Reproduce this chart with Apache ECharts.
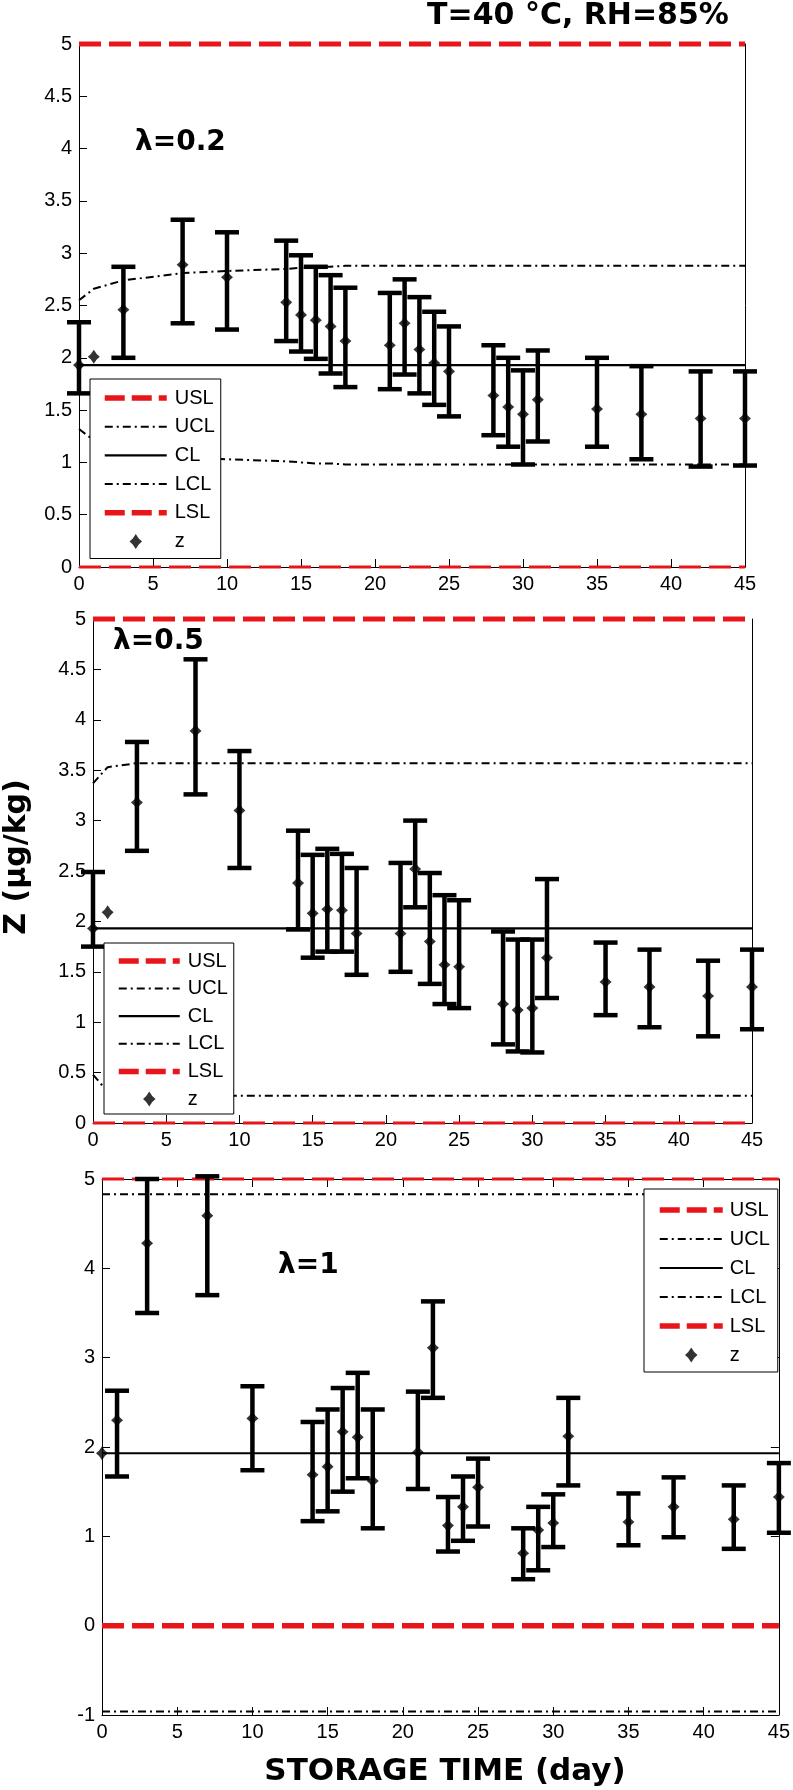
<!DOCTYPE html>
<html><head><meta charset="utf-8">
<script src="https://cdn.jsdelivr.net/npm/echarts/dist/echarts.min.js"></script>
<style>html,body{margin:0;padding:0;background:#fff}#c{width:793px;height:1790px}</style>
</head><body><div id="c"></div>
<script>
// ---- data ----
const days = [0,1,3,7,10,14,15,16,17,18,21,22,23,24,25,28,29,30,31,35,38,42,45];
const seriesNames = ['USL','UCL','CL','LCL','LSL','z'];
const yTicks1 = [0,5,0.5];
const yTicks2 = [0,5,0.5];
const yTicks3 = [-1,5,1];

// lambda = 0.2
const z1  = [1.93,2.01,2.46,2.89,2.77,2.53,2.41,2.36,2.30,2.16,2.12,2.33,2.08,1.95,1.87,1.64,1.53,1.46,1.60,1.51,1.46,1.42,1.42];
const hi1 = [2.34,null,2.87,3.32,3.20,3.12,2.98,2.87,2.79,2.67,2.62,2.75,2.58,2.44,2.30,2.12,2.00,1.88,2.07,2.00,1.92,1.87,1.87];
const lo1 = [1.66,null,2.00,2.33,2.27,2.16,2.06,1.99,1.85,1.72,1.70,1.84,1.66,1.55,1.44,1.26,1.15,0.98,1.20,1.15,1.03,0.96,0.97];
const ucl1 = [2.55,2.66,2.74,2.81,2.83,2.85,2.86,2.87,2.87,2.88,2.88,2.88,2.88,2.88,2.88,2.88,2.88,2.88,2.88,2.88,2.88,2.88,2.88];
const lcl1 = [1.32,1.21,1.12,1.05,1.03,1.01,1.00,0.99,0.99,0.98,0.98,0.98,0.98,0.98,0.98,0.98,0.98,0.98,0.98,0.98,0.98,0.98,0.98];
const cl1 = 1.93, usl1 = 5, lsl1 = 0;

// lambda = 0.5
const z2  = [1.93,2.09,3.18,3.89,3.10,2.38,2.08,2.12,2.11,1.88,1.88,2.52,1.80,1.57,1.55,1.18,1.12,1.14,1.64,1.40,1.35,1.26,1.35];
const hi2 = [2.49,null,3.78,4.60,3.69,2.90,2.66,2.72,2.67,2.53,2.58,3.00,2.48,2.26,2.21,1.90,1.82,1.82,2.42,1.79,1.72,1.61,1.72];
const lo2 = [1.75,null,2.70,3.26,2.53,1.92,1.64,1.70,1.70,1.47,1.50,2.14,1.38,1.18,1.14,0.78,0.71,0.70,1.24,1.07,0.95,0.86,0.93];
const ucl2 = [3.37,3.53,3.57,3.57,3.57,3.57,3.57,3.57,3.57,3.57,3.57,3.57,3.57,3.57,3.57,3.57,3.57,3.57,3.57,3.57,3.57,3.57,3.57];
const lcl2 = [0.48,0.31,0.27,0.27,0.27,0.27,0.27,0.27,0.27,0.27,0.27,0.27,0.27,0.27,0.27,0.27,0.27,0.27,0.27,0.27,0.27,0.27,0.27];
const cl2 = 1.93, usl2 = 5, lsl2 = 0;

// lambda = 1
const z3  = [1.93,2.30,4.28,4.59,2.32,1.69,1.78,2.17,2.11,1.62,1.94,3.11,1.12,1.33,1.55,0.81,1.07,1.15,2.12,1.16,1.33,1.19,1.44];
const hi3 = [null,2.63,5.00,5.03,2.68,2.28,2.42,2.66,2.83,2.42,2.62,3.63,1.44,1.67,1.87,1.09,1.33,1.47,2.55,1.48,1.66,1.57,1.82];
const lo3 = [null,1.67,3.50,3.70,1.74,1.17,1.28,1.50,1.65,1.09,1.53,2.55,0.83,0.95,1.11,0.52,0.62,0.88,1.57,0.90,0.99,0.86,1.04];
const ucl3 = [4.83,4.83,4.83,4.83,4.83,4.83,4.83,4.83,4.83,4.83,4.83,4.83,4.83,4.83,4.83,4.83,4.83,4.83,4.83,4.83,4.83,4.83,4.83];
const lcl3 = [-0.96,-0.96,-0.96,-0.96,-0.96,-0.96,-0.96,-0.96,-0.96,-0.96,-0.96,-0.96,-0.96,-0.96,-0.96,-0.96,-0.96,-0.96,-0.96,-0.96,-0.96,-0.96,-0.96];
const cl3 = 1.93, usl3 = 5, lsl3 = 0;

// ---- layout / style ----
const FONT = '"Liberation Sans", Arial, sans-serif';
const BOLD = '"DejaVu Sans", Verdana, sans-serif';
const grids = [
  {left:79, top:44, width:666, height:523},
  {left:93, top:619, width:659, height:504},
  {left:102, top:1179, width:682, height:536}
];
const yCfg = [yTicks1, yTicks2, yTicks3];
const panels = [
  {z:z1, hi:hi1, lo:lo1, ucl:ucl1, lcl:lcl1, cl:cl1, usl:usl1, lsl:lsl1, uslW:5, lslW:3},
  {z:z2, hi:hi2, lo:lo2, ucl:ucl2, lcl:lcl2, cl:cl2, usl:usl2, lsl:lsl2, uslW:5, lslW:3},
  {z:z3, hi:hi3, lo:lo3, ucl:ucl3, lcl:lcl3, cl:cl3, usl:usl3, lsl:lsl3, uslW:3, lslW:5.5}
];
const legendPos = [
  {left:90, top:379, padding:[9,6,7,12], itemWidth:62, itemGap:8.7, tpad:3},
  {left:104, top:943, padding:[8,6,5,12], itemWidth:61, itemGap:7.6, tpad:3},
  {left:644, top:1189, padding:[11,8,7,13], itemWidth:63, itemGap:9, tpad:2}
];

const RED = '#e8161b';
const dashRed = [22,8];
const dashDot = [8,4,2,4];
const MARK = 'path://M0,-6 L2.4,-2.4 L5,0 L2.4,2.4 L0,6 L-2.4,2.4 L-5,0 L-2.4,-2.4 Z';

const xAxis = [], yAxis = [], series = [], legend = [];
grids.forEach((g, p) => {
  xAxis.push({
    gridIndex:p, type:'value', min:0, max:45, interval:5, position:'bottom',
    axisLine:{show:true, onZero:false, lineStyle:{color:'#000', width:1}},
    axisTick:{show:true, inside:true, length:8, lineStyle:{color:'#000'}},
    axisLabel:{color:'#000', fontSize:20, fontFamily:FONT, margin:7},
    splitLine:{show:false}
  });
  const [ymin, ymax, yint] = yCfg[p];
  yAxis.push({
    gridIndex:p, type:'value', min:ymin, max:ymax, interval:yint, position:'left',
    axisLine:{show:true, onZero:false, lineStyle:{color:'#000', width:1}},
    axisTick:{show:true, inside:true, length:8, lineStyle:{color:'#000'}},
    axisLabel:{color:'#000', fontSize:20, fontFamily:FONT, margin:7},
    splitLine:{show:false}
  });
});
// mirrored right axes (box)
grids.forEach((g, p) => {
  const [ymin, ymax, yint] = yCfg[p];
  yAxis.push({
    gridIndex:p, type:'value', min:ymin, max:ymax, interval:yint, position:'right',
    axisLine:{show:true, onZero:false, lineStyle:{color:'#000', width:1}},
    axisTick:{show:p===2, inside:true, length:8, lineStyle:{color:'#000'}},
    axisLabel:{show:false}, splitLine:{show:false}
  });
});
// top axis for third panel
xAxis.push({
  gridIndex:2, type:'value', min:0, max:45, interval:5, position:'top',
  axisLine:{show:true, onZero:false, lineStyle:{color:'#000', width:1}},
  axisTick:{show:true, inside:true, length:8, lineStyle:{color:'#000'}},
  axisLabel:{show:false}, splitLine:{show:false}
});

function errRender(params, api) {
  const x = api.value(0), lo = api.value(1), hi = api.value(2);
  const t = api.coord([x, hi]), b = api.coord([x, lo]);
  const hw = 12;
  const st = {stroke:'#000', lineWidth:4.5, lineCap:'butt'};
  return {type:'group', children:[
    {type:'line', shape:{x1:t[0], y1:t[1], x2:b[0], y2:b[1]}, style:st},
    {type:'line', shape:{x1:t[0]-hw, y1:t[1], x2:t[0]+hw, y2:t[1]}, style:st},
    {type:'line', shape:{x1:b[0]-hw, y1:b[1], x2:b[0]+hw, y2:b[1]}, style:st}
  ]};
}

panels.forEach((P, p) => {
  const base = {xAxisIndex:p, yAxisIndex:p, symbol:'none', showSymbol:false, animation:false, silent:true};
  series.push(Object.assign({}, base, {type:'line', name:'USL', z:3, clip:false, itemStyle:{color:RED},
    data:days.map(d => [d, P.usl]), lineStyle:{color:RED, width:P.uslW, type:dashRed}}));
  series.push(Object.assign({}, base, {type:'line', name:'UCL', z:3, itemStyle:{color:'#000'},
    data:days.map((d,i) => [d, P.ucl[i]]), lineStyle:{color:'#000', width:2, type:dashDot}}));
  series.push(Object.assign({}, base, {type:'line', name:'CL', z:3, itemStyle:{color:'#000'},
    data:days.map(d => [d, P.cl]), lineStyle:{color:'#000', width:2.2, type:'solid'}}));
  series.push(Object.assign({}, base, {type:'line', name:'LCL', z:3, itemStyle:{color:'#000'},
    data:days.map((d,i) => [d, P.lcl[i]]), lineStyle:{color:'#000', width:2, type:dashDot}}));
  series.push(Object.assign({}, base, {type:'line', name:'LSL', z:3, clip:false, itemStyle:{color:RED},
    data:days.map(d => [d, P.lsl]), lineStyle:{color:RED, width:P.lslW, type:dashRed}}));
  const errData = [];
  days.forEach((d,i) => { if (P.hi[i] != null && P.lo[i] != null) errData.push([d, P.lo[i], P.hi[i]]); });
  series.push({type:'custom', name:'err'+p, xAxisIndex:p, yAxisIndex:p, z:4, animation:false, silent:true,
    renderItem:errRender, encode:{x:0, y:[1,2]}, data:errData});
  series.push({type:'scatter', name:'z', xAxisIndex:p, yAxisIndex:p, z:5, animation:false, silent:true,
    symbol:MARK, symbolSize:[12,14], itemStyle:{color:'#000'},
    data:days.map((d,i) => [d, P.z[i]])});
});

const hide = {opacity:0, borderWidth:0};
legendPos.forEach((L, p) => {
  legend.push({
    orient:'vertical', left:L.left, top:L.top, padding:L.padding,
    itemWidth:L.itemWidth, itemHeight:15, itemGap:L.itemGap,
    backgroundColor:'#fff', borderColor:'#000', borderWidth:1, borderRadius:0,
    selectedMode:false, z:10, symbolKeepAspect:true,
    textStyle:{color:'#000', fontSize:20, fontFamily:FONT, padding:[0,0,0,L.tpad]},
    data:[
      {name:'USL', itemStyle:hide, lineStyle:{color:RED, width:5.5, type:[20,7]}},
      {name:'UCL', itemStyle:hide, lineStyle:{color:'#000', width:2, type:dashDot}},
      {name:'CL', itemStyle:hide, lineStyle:{color:'#000', width:2.2, type:'solid'}},
      {name:'LCL', itemStyle:hide, lineStyle:{color:'#000', width:2, type:dashDot}},
      {name:'LSL', itemStyle:hide, lineStyle:{color:RED, width:5.5, type:[20,7]}},
      {name:'z', icon:MARK, itemStyle:{color:'#000'}}
    ]
  });
});

const graphic = [
  {type:'text', x:578, y:16, z:20, style:{text:'T=40 °C, RH=85%', font:'bold 30px ' + BOLD, fill:'#000', textAlign:'center', textVerticalAlign:'middle'}},
  {type:'text', x:135, y:143, z:20, style:{text:'λ=0.2', font:'bold 28px ' + BOLD, fill:'#000', textAlign:'left', textVerticalAlign:'middle'}},
  {type:'text', x:113, y:642, z:20, style:{text:'λ=0.5', font:'bold 28px ' + BOLD, fill:'#000', textAlign:'left', textVerticalAlign:'middle'}},
  {type:'text', x:278, y:1266, z:20, style:{text:'λ=1', font:'bold 28px ' + BOLD, fill:'#000', textAlign:'left', textVerticalAlign:'middle'}},
  {type:'text', x:17, y:857, rotation:Math.PI/2, z:20, style:{text:'Z (μg/kg)', font:'bold 30px ' + BOLD, fill:'#000', textAlign:'center', textVerticalAlign:'middle'}},
  {type:'text', x:445, y:1772, z:20, style:{text:'STORAGE TIME (day)', font:'bold 31px ' + BOLD, fill:'#000', textAlign:'center', textVerticalAlign:'middle'}}
];

const chart = echarts.init(document.getElementById('c'), null, {renderer:'canvas'});
chart.setOption({
  animation:false, backgroundColor:'#fff',
  grid: grids.map(g => Object.assign({containLabel:false}, g)),
  xAxis, yAxis, series, legend, graphic
});
</script>
</body></html>
